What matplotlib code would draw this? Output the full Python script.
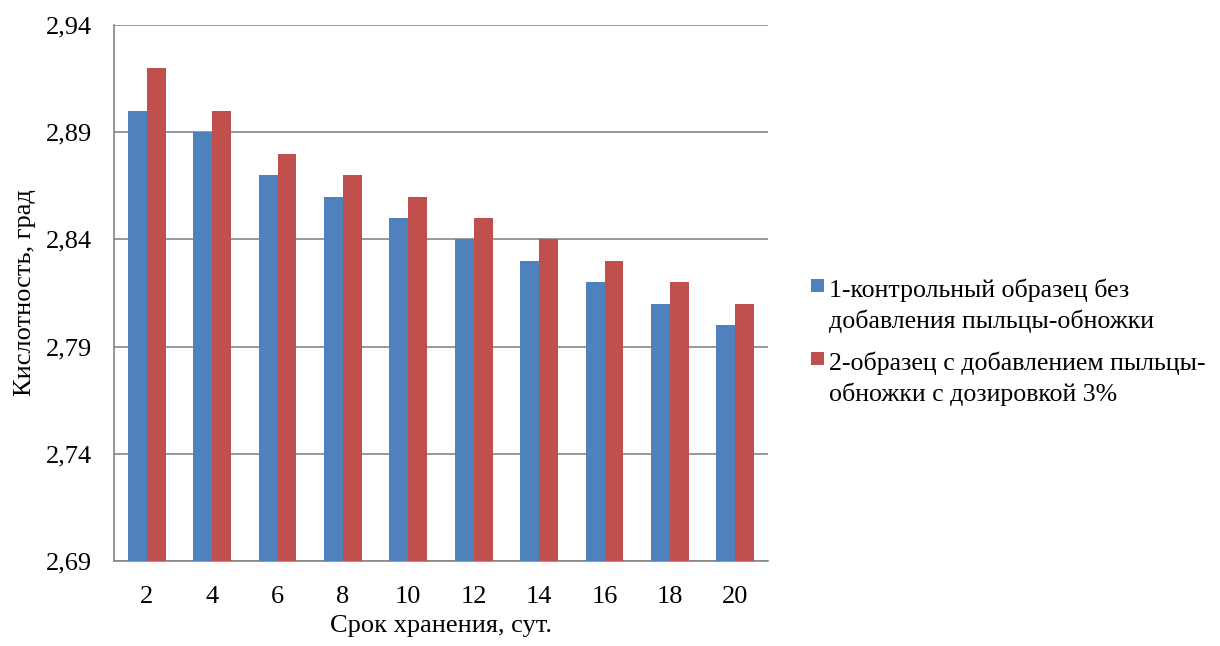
import numpy as np
import matplotlib
matplotlib.use("Agg")
import matplotlib.pyplot as plt
from matplotlib.patches import Rectangle

plt.rcParams['font.family'] = ['Liberation Serif', 'DejaVu Serif']

days = ["2", "4", "6", "8", "10", "12", "14", "16", "18", "20"]
control = [2.90, 2.89, 2.87, 2.86, 2.85, 2.84, 2.83, 2.82, 2.81, 2.80]
pollen = [2.92, 2.90, 2.88, 2.87, 2.86, 2.85, 2.84, 2.83, 2.82, 2.81]
yticks = [2.69, 2.74, 2.79, 2.84, 2.89, 2.94]

series_names = [["1-контрольный образец без", "добавления пыльцы-обножки"],
                ["2-образец с добавлением пыльцы-", "обножки с дозировкой 3%"]]
colors = ["#4F81BD", "#C0504D"]

W, H = 1220, 646
FS = 19
FS_LEG = 18.6
fig = plt.figure(figsize=(W / 100, H / 100), dpi=100)
ax = fig.add_axes([114 / W, 1 - 561 / H, 654 / W, 536 / H])

x = np.arange(len(days))
w = 0.29
ax.bar(x - w / 2, control, w, color=colors[0], zorder=3)
ax.bar(x + w / 2, pollen, w, color=colors[1], zorder=3)

ax.set_xlim(-0.5, len(days) - 0.5)
ax.set_ylim(2.69, 2.94)
ax.set_yticks(yticks)
ax.set_yticklabels([f"{v:.2f}".replace(".", ",") for v in yticks])
ax.set_xticks(x)
ax.set_xticklabels(days)
ax.tick_params(axis='both', length=0, labelsize=FS, colors='black')
ax.tick_params(axis='y', pad=16)
ax.tick_params(axis='x', pad=18)

ax.grid(axis='y', color='#868686', linewidth=1.2, zorder=0)
for s in ['top', 'right']:
    ax.spines[s].set_visible(False)
for s in ['left', 'bottom']:
    ax.spines[s].set_color('#868686')
    ax.spines[s].set_linewidth(1.2)

ax.set_xlabel("Срок хранения, сут.", fontsize=FS, labelpad=5)
ax.set_ylabel("Кислотность, град", fontsize=FS, labelpad=7)

# legend: square key aligned with the first line of each entry
entry_top = [279, 352]
for i, (c, lines) in enumerate(zip(colors, series_names)):
    top = entry_top[i]
    fig.patches.append(Rectangle((811 / W, 1 - (top + 13) / H), 13 / W, 13 / H,
                                 transform=fig.transFigure, facecolor=c,
                                 edgecolor='none'))
    for j, line in enumerate(lines):
        base = top + 18 + j * 31
        fig.text(829 / W, 1 - base / H, line, fontsize=FS_LEG, va='baseline',
                 ha='left')

fig.savefig("out.png", dpi=100)
